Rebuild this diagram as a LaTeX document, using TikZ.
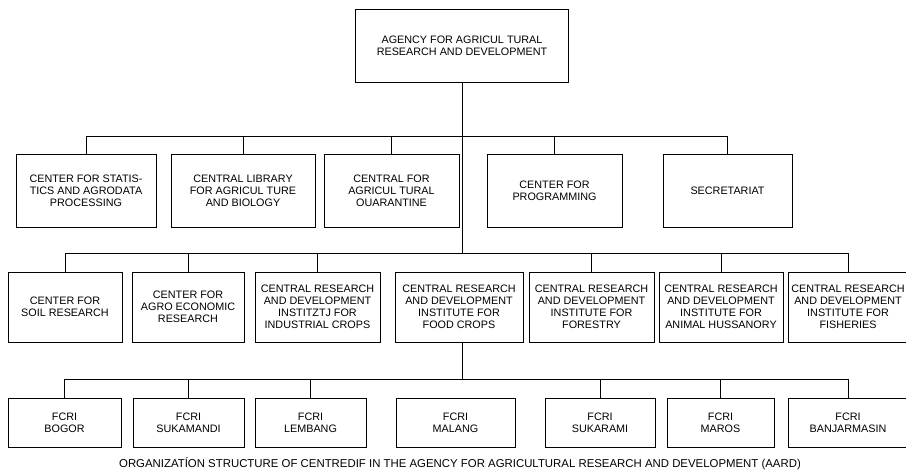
\documentclass[tikz,border=0pt]{standalone}
\usepackage{fontspec}
\setmainfont{Liberation Sans}
\usepackage{tikz}
\usetikzlibrary{calc}

\tikzset{
  unit/.style={draw, rectangle, align=center, inner sep=0pt, line width=0.8pt,
    font=\fontsize{10.8}{12}\selectfont},
  rowa/.style={unit, minimum height=73pt},
  rowb/.style={unit, minimum height=70pt},
  rowc/.style={unit, minimum height=49pt},
  link/.style={line width=0.8pt}
}

\begin{document}
\begin{tikzpicture}[x=1pt, y=-1pt]
\useasboundingbox (0,0) rectangle (906,472);
\node[unit, minimum width=213pt, minimum height=73pt] (aard) at (462,45.5) {AGENCY FOR AGRICUL TURAL\\RESEARCH AND DEVELOPMENT};
\coordinate (b1) at (0,136);
\coordinate (b2) at (0,253);
\coordinate (b3) at (0,379);
\node[rowa, minimum width=140pt] (stat) at (86,190.5)    {CENTER FOR STATIS-\\TICS AND AGRODATA\\PROCESSING};
\node[rowa, minimum width=144pt] (lib)  at (243,190.5)   {CENTRAL LIBRARY\\FOR AGRICUL TURE\\AND BIOLOGY};
\node[rowa, minimum width=135pt] (quar) at (391.5,190.5) {CENTRAL FOR\\AGRICUL TURAL\\OUARANTINE};
\node[rowa, minimum width=135pt] (prog) at (554.5,190.5) {CENTER FOR\\PROGRAMMING};
\node[rowa, minimum width=129pt] (secr) at (727.5,190.5) {SECRETARIAT};
\node[rowb, minimum width=114pt] (soil)   at (65,307)    {CENTER FOR\\SOIL RESEARCH};
\node[rowb, minimum width=112pt] (agro)   at (188,307)   {CENTER FOR\\AGRO ECONOMIC\\RESEARCH};
\node[rowb, minimum width=125pt] (ind)    at (317.5,307) {CENTRAL RESEARCH\\AND DEVELOPMENT\\INSTITZTJ FOR\\INDUSTRIAL CROPS};
\node[rowb, minimum width=128pt] (food)   at (459,307)   {CENTRAL RESEARCH\\AND DEVELOPMENT\\INSTITUTE FOR\\FOOD CROPS};
\node[rowb, minimum width=125pt] (forest) at (591.5,307) {CENTRAL RESEARCH\\AND DEVELOPMENT\\INSTITUTE FOR\\FORESTRY};
\node[rowb, minimum width=124pt] (animal) at (721,307)   {CENTRAL RESEARCH\\AND DEVELOPMENT\\INSTITUTE FOR\\ANIMAL HUSSANORY};
\node[rowb, minimum width=120pt] (fish)   at (848,307)   {CENTRAL RESEARCH\\AND DEVELOPMENT\\INSTITUTE FOR\\FISHERIES};
\node[rowc, minimum width=113pt] (bogor)  at (64.5,422.5)  {FCRI\\BOGOR};
\node[rowc, minimum width=111pt] (skmd)   at (188.5,422.5) {FCRI\\SUKAMANDI};
\node[rowc, minimum width=111pt] (lemb)   at (310.5,422.5) {FCRI\\LEMBANG};
\node[rowc, minimum width=119pt] (malang) at (455.5,422.5) {FCRI\\MALANG};
\node[rowc, minimum width=110pt] (skrm)   at (600,422.5)   {FCRI\\SUKARAMI};
\node[rowc, minimum width=107pt] (maros)  at (720.5,422.5) {FCRI\\MAROS};
\node[rowc, minimum width=120pt] (banj)   at (848,422.5)   {FCRI\\BANJARMASIN};
\node[font=\fontsize{11.4}{13}\selectfont] (cap) at (460,464) {ORGANIZATÍON STRUCTURE OF CENTREDIF IN THE AGENCY FOR AGRICULTURAL RESEARCH AND DEVELOPMENT (AARD)};
\draw[link] (aard.south) -- (aard.south |- b2);
\draw[link] (stat.north) |- (secr.north |- b1) -- (secr.north);
\foreach \n in {lib,quar,prog} \draw[link] (\n.north) -- (\n.north |- b1);
\draw[link] (soil.north) |- (fish.north |- b2) -- (fish.north);
\foreach \n in {agro,ind,forest,animal} \draw[link] (\n.north) -- (\n.north |- b2);
\draw[link] (aard.south |- food.south) -- (aard.south |- b3);
\draw[link] (bogor.north) |- (banj.north |- b3) -- (banj.north);
\foreach \n in {skmd,lemb,skrm,maros} \draw[link] (\n.north) -- (\n.north |- b3);
\end{tikzpicture}
\end{document}
